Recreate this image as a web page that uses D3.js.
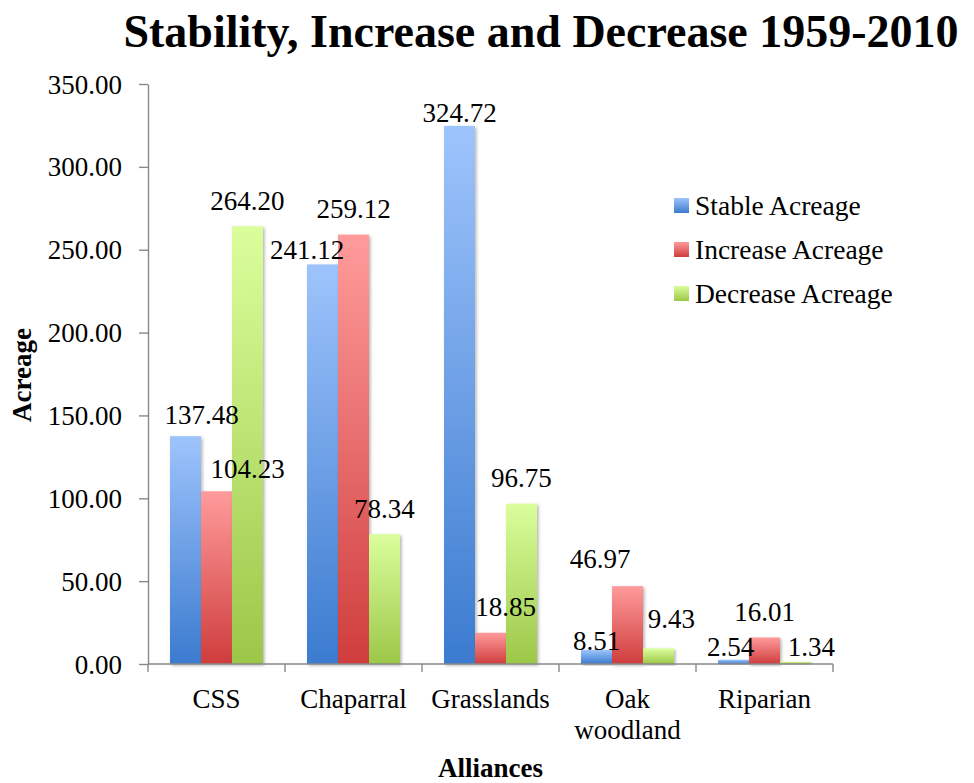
<!DOCTYPE html>
<html>
<head>
<meta charset="utf-8">
<script src="https://cdn.jsdelivr.net/npm/d3@7"></script>
<style>
  html, body { margin: 0; padding: 0; background: #fff; }
  svg { display: block; }
  text { font-family: "Liberation Serif", "Times New Roman", serif; fill: #000; }
</style>
</head>
<body>
<svg id="chart" width="974" height="783"></svg>
<script>
// Acreage by alliance, 1959-2010
const categories = ["CSS", "Chaparral", "Grasslands", "Oak woodland", "Riparian"];
const stableAcreage   = [137.48, 241.12, 324.72, 8.51, 2.54];
const increaseAcreage = [104.23, 259.12, 18.85, 46.97, 16.01];
const decreaseAcreage = [264.20, 78.34, 96.75, 9.43, 1.34];
const seriesNames = ["Stable Acreage", "Increase Acreage", "Decrease Acreage"];
const yTickValues = [0, 50, 100, 150, 200, 250, 300, 350];

// hand-placed value labels: [dx, dy] from the default spot above each bar
const labelNudge = [
  [[16, 4.5], [-15.5, 11.5], [0, 13], [0, 16.5], [-3, 12.5]],
  [[31, 3.5], [0, 0], [15, 0], [-27.5, -2], [0, 0]],
  [[0, 0], [0, 0], [0, 0], [13, -3.5], [16, 10.5]]
];

const seriesValues = [stableAcreage, increaseAcreage, decreaseAcreage];
const palette = [
  { top: "#9ec4fc", bottom: "#3b7bcf" },
  { top: "#ff9b9b", bottom: "#cf3d3d" },
  { top: "#dbfe9c", bottom: "#9cc748" }
];

const svg = d3.select("#chart");
const plot = { left: 148, right: 833, top: 84, bottom: 664 };

const defs = svg.append("defs");
palette.forEach((c, i) => {
  const g = defs.append("linearGradient")
    .attr("id", "grad" + i)
    .attr("x1", 0).attr("y1", 0).attr("x2", 0).attr("y2", 1);
  g.append("stop").attr("offset", "0%").attr("stop-color", c.top);
  g.append("stop").attr("offset", "100%").attr("stop-color", c.bottom);
});
const shadow = defs.append("filter").attr("id", "barShadow")
  .attr("x", "-20%").attr("y", "-5%").attr("width", "150%").attr("height", "115%");
shadow.append("feDropShadow")
  .attr("dx", 1.5).attr("dy", 1.5).attr("stdDeviation", 1.6)
  .attr("flood-color", "#000").attr("flood-opacity", 0.3);

const x = d3.scaleBand().domain(categories).range([plot.left, plot.right]).padding(0);
const xs = d3.scaleBand().domain(d3.range(seriesNames.length))
  .range([0, x.bandwidth()]).paddingInner(0).paddingOuter(0.71);
const y = d3.scaleLinear().domain([0, 350]).range([plot.bottom, plot.top]);

// bars
const groups = svg.append("g").selectAll("g")
  .data(categories).join("g")
  .attr("transform", c => `translate(${x(c)},0)`);

groups.each(function (c, ci) {
  const g = d3.select(this);
  seriesValues.forEach((vals, si) => {
    const v = vals[ci];
    g.append("rect")
      .attr("x", xs(si))
      .attr("y", y(v))
      .attr("width", xs.bandwidth())
      .attr("height", y(0) - y(v))
      .attr("fill", `url(#grad${si})`)
      .attr("filter", "url(#barShadow)");
  });
});

// y axis
const yAxis = d3.axisLeft(y)
  .tickValues(yTickValues)
  .tickFormat(d3.format(".2f"))
  .tickSizeInner(9).tickSizeOuter(0).tickPadding(17);
const yg = svg.append("g").attr("transform", `translate(${plot.left},0)`).call(yAxis);
yg.selectAll("path, line").attr("stroke", "#898989").attr("stroke-width", 1.4);
yg.selectAll("text")
  .attr("font-family", "Liberation Serif, serif")
  .attr("font-size", 27).attr("dy", null).attr("y", 9);

// x axis: baseline plus ticks on the category boundaries
const xg = svg.append("g");
xg.append("line")
  .attr("x1", plot.left).attr("x2", plot.right)
  .attr("y1", y(0)).attr("y2", y(0))
  .attr("stroke", "#898989").attr("stroke-width", 1.4);
const boundaries = categories.map(c => x(c)).concat([x(categories[categories.length - 1]) + x.bandwidth()]);
xg.selectAll("line.tick").data(boundaries).join("line")
  .attr("class", "tick")
  .attr("x1", d => d).attr("x2", d => d)
  .attr("y1", y(0)).attr("y2", y(0) + 8)
  .attr("stroke", "#898989").attr("stroke-width", 1.4);

// category labels (wrap two-word names onto two lines where needed)
const catText = xg.selectAll("text.cat").data(categories).join("text")
  .attr("class", "cat")
  .attr("text-anchor", "middle")
  .attr("font-size", 27)
  .attr("x", c => x(c) + x.bandwidth() / 2)
  .attr("y", 708);
catText.each(function (c) {
  const words = c === "Oak woodland" ? ["Oak", "woodland"] : [c];
  const t = d3.select(this);
  words.forEach((w, i) => {
    t.append("tspan")
      .attr("x", x(c) + x.bandwidth() / 2)
      .attr("dy", i === 0 ? 0 : 31)
      .text(w);
  });
});

// value labels
const labels = svg.append("g");
categories.forEach((c, ci) => {
  seriesValues.forEach((vals, si) => {
    const v = vals[ci];
    const [dx, dy] = labelNudge[si][ci];
    labels.append("text")
      .attr("text-anchor", "middle")
      .attr("font-size", 27)
      .attr("x", x(c) + xs(si) + xs.bandwidth() / 2 + dx)
      .attr("y", y(v) - 16.5 + dy)
      .text(d3.format(".2f")(v));
  });
});

// legend
const legend = svg.append("g").attr("transform", "translate(674,198)");
seriesNames.forEach((name, i) => {
  const row = legend.append("g").attr("transform", `translate(0,${i * 44})`);
  row.append("rect").attr("width", 15).attr("height", 15)
    .attr("fill", `url(#grad${i})`);
  row.append("text").attr("x", 21).attr("y", 17)
    .attr("font-size", 27.5).text(name);
});

// titles
svg.append("text")
  .attr("x", 541).attr("y", 47)
  .attr("text-anchor", "middle")
  .attr("font-weight", "bold").attr("font-size", 46)
  .text("Stability, Increase and Decrease 1959-2010");

svg.append("text")
  .attr("transform", `translate(31,${(plot.top + plot.bottom) / 2 + 1}) rotate(-90)`)
  .attr("text-anchor", "middle")
  .attr("font-weight", "bold").attr("font-size", 27)
  .text("Acreage");

svg.append("text")
  .attr("x", (plot.left + plot.right) / 2).attr("y", 777)
  .attr("text-anchor", "middle")
  .attr("font-weight", "bold").attr("font-size", 27)
  .text("Alliances");
</script>
</body>
</html>
